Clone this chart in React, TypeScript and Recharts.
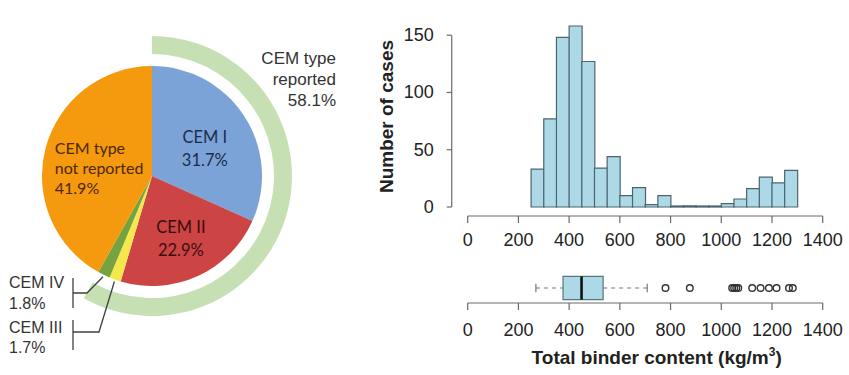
import React from 'react';
import {
  PieChart, Pie, Cell, BarChart, Bar, XAxis, YAxis, ReferenceLine,
  ComposedChart, Scatter, ReferenceArea,
} from 'recharts';

// ---------- data ----------
const PIE_NAMES = ['CEM I', 'CEM II', 'CEM III', 'CEM IV', 'CEM type not reported'];
const PIE_VALUES = [31.7, 22.9, 1.7, 1.8, 41.9];
const PIE_COLORS = ['#7BA3D7', '#CC4444', '#F6E84C', '#77A33F', '#F5990F'];
const RING_NAMES = ['CEM type reported', 'rest'];
const RING_VALUES = [58.1, 41.9];

const BIN_STARTS = [250, 300, 350, 400, 450, 500, 550, 600, 650, 700, 750, 800, 850, 900, 950, 1000, 1050, 1100, 1150, 1200, 1250];
const BIN_COUNTS = [33, 77, 148, 158, 127, 34, 44, 10, 17, 2, 10, 0, 1, 0, 0, 3, 7, 16, 26, 21, 32];
const BIN_WIDTH = 50;

const X_TICKS = [0, 200, 400, 600, 800, 1000, 1200, 1400];
const Y_TICKS = [0, 50, 100, 150];

// whisker low, Q1, median, Q3, whisker high
const BOX_STATS = [269, 376, 449, 534, 708];
const OUTLIERS = [780, 876, 1043, 1051, 1059, 1067, 1122, 1155, 1188, 1218, 1267, 1282];

// ---------- derived tables ----------
const pieData = PIE_NAMES.map((name, i) => ({ name, value: PIE_VALUES[i] }));
const ringData = RING_NAMES.map((name, i) => ({ name, value: RING_VALUES[i] }));
const histData = BIN_STARTS.map((s, i) => ({ mid: s + BIN_WIDTH / 2, count: BIN_COUNTS[i] }));
const outlierData = OUTLIERS.map((x) => ({ x, y: 1 }));

const SANS = '"Liberation Sans", Arial, sans-serif';
const CAL = 'Lato, "Open Sans", sans-serif';
const AXIS_COLOR = '#6a6a6a';
const TEXT_COLOR = '#222';
const BAR_FILL = '#ADD8E6';
const BAR_STROKE = '#4A6470';
const Y_AXIS_OFFSET = -63; // detached R-style y-axis, in data units

const RAD = Math.PI / 180;

const renderPieLabel = (props: any) => {
  const { cx, cy, midAngle, outerRadius, index } = props;
  const pt = (r: number) => [cx + r * Math.cos(-midAngle * RAD), cy + r * Math.sin(-midAngle * RAD)];
  const pct = `${PIE_VALUES[index].toFixed(1)}%`;
  if (index === 0) {
    const [x, y] = pt(outerRadius * 0.55);
    return (
      <g>
        <text x={x + 2} y={y} textAnchor="middle" fontFamily={CAL} fontSize={16.5} fill="#1E2D4A">CEM I</text>
        <text x={x + 2} y={y + 23} textAnchor="middle" fontFamily={CAL} fontSize={16.5} fill="#1E2D4A">{pct}</text>
      </g>
    );
  }
  if (index === 1) {
    const [x, y] = pt(outerRadius * 0.63);
    return (
      <g>
        <text x={x} y={y - 6} textAnchor="middle" fontFamily={CAL} fontSize={16.5} fill="#3A0D0D">CEM II</text>
        <text x={x} y={y + 17} textAnchor="middle" fontFamily={CAL} fontSize={16.5} fill="#3A0D0D">{pct}</text>
      </g>
    );
  }
  if (index === 4) {
    const [x, y] = pt(outerRadius * 0.5);
    const lx = x - 44;
    return (
      <g>
        <text x={lx} y={y - 8} textAnchor="start" fontFamily={CAL} fontSize={16} fill="#4A2800">CEM type</text>
        <text x={lx} y={y + 12} textAnchor="start" fontFamily={CAL} fontSize={16} fill="#4A2800">not reported</text>
        <text x={lx} y={y + 32} textAnchor="start" fontFamily={CAL} fontSize={16} fill="#4A2800">{pct}</text>
      </g>
    );
  }
  // small slices: external bracket labels
  const [px, py] = pt(outerRadius + 2);
  const bx = 73;
  if (index === 3) {
    return (
      <g>
        <polyline points={`${px},${py} 87,293 ${bx},293`} fill="none" stroke="#404040" strokeWidth={1.3} />
        <line x1={bx} y1={278} x2={bx} y2={308} stroke="#404040" strokeWidth={1.3} />
        <text x={9} y={288} fontFamily={SANS} fontSize={16} fill="#333">CEM IV</text>
        <text x={9} y={309} fontFamily={SANS} fontSize={16} fill="#333">{pct}</text>
      </g>
    );
  }
  return (
    <g>
      <polyline points={`${px},${py} 99,332 ${bx},332`} fill="none" stroke="#404040" strokeWidth={1.3} />
      <line x1={bx} y1={320} x2={bx} y2={350} stroke="#404040" strokeWidth={1.3} />
      <text x={9} y={333} fontFamily={SANS} fontSize={16} fill="#333">CEM III</text>
      <text x={9} y={353} fontFamily={SANS} fontSize={16} fill="#333">{pct}</text>
    </g>
  );
};

const renderRingLabel = (props: any) => {
  const { cx, index } = props;
  if (index !== 0) return null;
  const x = cx + 184;
  return (
    <g>
      <text x={x} y={64} textAnchor="end" fontFamily={SANS} fontSize={17} fill="#333">CEM type</text>
      <text x={x} y={85} textAnchor="end" fontFamily={SANS} fontSize={17} fill="#333">reported</text>
      <text x={x} y={106} textAnchor="end" fontFamily={SANS} fontSize={17} fill="#333">{`${RING_VALUES[0].toFixed(1)}%`}</text>
    </g>
  );
};

const YTick = (props: any) => {
  const { x, y, payload } = props;
  return (
    <g>
      <line x1={x - 21} y1={y} x2={x - 16} y2={y} stroke={AXIS_COLOR} strokeWidth={1.2} />
      <text x={x - 34} y={y} textAnchor="end" dominantBaseline="central" fontFamily={SANS} fontSize={18} fill={TEXT_COLOR}>
        {payload.value}
      </text>
    </g>
  );
};

const YTitle = (props: any) => {
  const vb = props.viewBox;
  const cx = vb.x - 31.7;
  const cy = vb.y + vb.height / 2 - 4.5;
  return (
    <text x={cx} y={cy} transform={`rotate(-90 ${cx} ${cy})`} textAnchor="middle" dominantBaseline="central"
      fontFamily={SANS} fontSize={19} fontWeight="bold" fill={TEXT_COLOR}>
      Number of cases
    </text>
  );
};

const XTitle = (props: any) => {
  const vb = props.viewBox;
  const cx = vb.x + vb.width / 2 + 11.5;
  const y = vb.y + 60.5;
  return (
    <text x={cx} y={y} textAnchor="middle" fontFamily={SANS} fontSize={19} fontWeight="bold" fill={TEXT_COLOR}>
      Total binder content (kg/m<tspan fontSize={12} dy={-8}>3</tspan><tspan dy={8}>)</tspan>
    </text>
  );
};

const OutlierDot = (props: any) => (
  <circle cx={props.cx} cy={props.cy} r={3.3} fill="none" stroke="#333" strokeWidth={1.4} />
);

const tickStyle = { fill: TEXT_COLOR, fontSize: 18, fontFamily: SANS };

export default function App() {
  const [wLo, q1, med, q3, wHi] = BOX_STATS;
  return (
    <div style={{ position: 'absolute', left: 0, top: 0, width: 849, height: 375, background: '#fff', overflow: 'hidden' }}>
      <div style={{ position: 'absolute', left: 0, top: 0 }}>
        <PieChart width={370} height={375} margin={{ top: 0, right: 0, bottom: 0, left: 0 }}>
          <Pie data={ringData} dataKey="value" cx={152} cy={176} innerRadius={122} outerRadius={140}
            startAngle={90} endAngle={-270} stroke="none" label={renderRingLabel} labelLine={false}
            isAnimationActive={false}>
            <Cell fill="#C6E0B4" />
            <Cell fill="none" />
          </Pie>
          <Pie data={pieData} dataKey="value" cx={152} cy={176} outerRadius={110}
            startAngle={90} endAngle={-270} stroke="none" label={renderPieLabel} labelLine={false}
            isAnimationActive={false}>
            {pieData.map((d, i) => <Cell key={d.name} fill={PIE_COLORS[i]} />)}
          </Pie>
        </PieChart>
      </div>

      <div style={{ position: 'absolute', left: 370, top: 0 }}>
        <BarChart width={479} height={250} data={histData}
          margin={{ top: 26, right: 26.3, bottom: 4, left: 47.7 }} barCategoryGap={0} barGap={0}>
          <XAxis type="number" dataKey="mid" domain={[0, 1400]} ticks={X_TICKS} interval={0}
            tickSize={7} tickMargin={10} height={30} stroke={AXIS_COLOR} strokeWidth={1.2}
            tick={tickStyle} allowDataOverflow />
          <YAxis type="number" domain={[0, 150]} ticks={Y_TICKS} interval={0} padding={{ top: 0, bottom: 9 }}
            width={50} axisLine={false} tickLine={false} tickSize={0} tickMargin={0}
            tick={<YTick />} label={YTitle} />
          <ReferenceLine segment={[{ x: Y_AXIS_OFFSET, y: 0 }, { x: Y_AXIS_OFFSET, y: 150 }]}
            ifOverflow="visible" stroke={AXIS_COLOR} strokeWidth={1.2} />
          <Bar dataKey="count" fill={BAR_FILL} stroke={BAR_STROKE} strokeWidth={1.2} minPointSize={1}
            isAnimationActive={false} />
        </BarChart>
      </div>

      <div style={{ position: 'absolute', left: 370, top: 250 }}>
        <ComposedChart width={479} height={125} margin={{ top: 23, right: 26.3, bottom: 42, left: 97.7 }}>
          <XAxis type="number" dataKey="x" domain={[0, 1400]} ticks={X_TICKS} interval={0}
            tickSize={7} tickMargin={13} height={30} stroke={AXIS_COLOR} strokeWidth={1.2}
            tick={tickStyle} label={XTitle} allowDataOverflow />
          <YAxis type="number" dataKey="y" domain={[0, 2]} hide width={0} />
          <ReferenceLine segment={[{ x: wLo, y: 1 }, { x: q1, y: 1 }]} stroke="#777" strokeDasharray="4 4" strokeWidth={1.2} />
          <ReferenceLine segment={[{ x: q3, y: 1 }, { x: wHi, y: 1 }]} stroke="#777" strokeDasharray="4 4" strokeWidth={1.2} />
          <ReferenceLine segment={[{ x: wLo, y: 0.72 }, { x: wLo, y: 1.28 }]} stroke="#777" strokeWidth={1.2} />
          <ReferenceLine segment={[{ x: wHi, y: 0.72 }, { x: wHi, y: 1.28 }]} stroke="#777" strokeWidth={1.2} />
          <ReferenceArea x1={q1} x2={q3} y1={0.23} y2={1.77} fill={BAR_FILL} fillOpacity={1} stroke="#5C7480" strokeWidth={1.2} />
          <ReferenceLine segment={[{ x: med, y: 0.23 }, { x: med, y: 1.77 }]} stroke="#111" strokeWidth={2.6} />
          <Scatter data={outlierData} dataKey="y" shape={<OutlierDot />} isAnimationActive={false} />
        </ComposedChart>
      </div>
    </div>
  );
}
